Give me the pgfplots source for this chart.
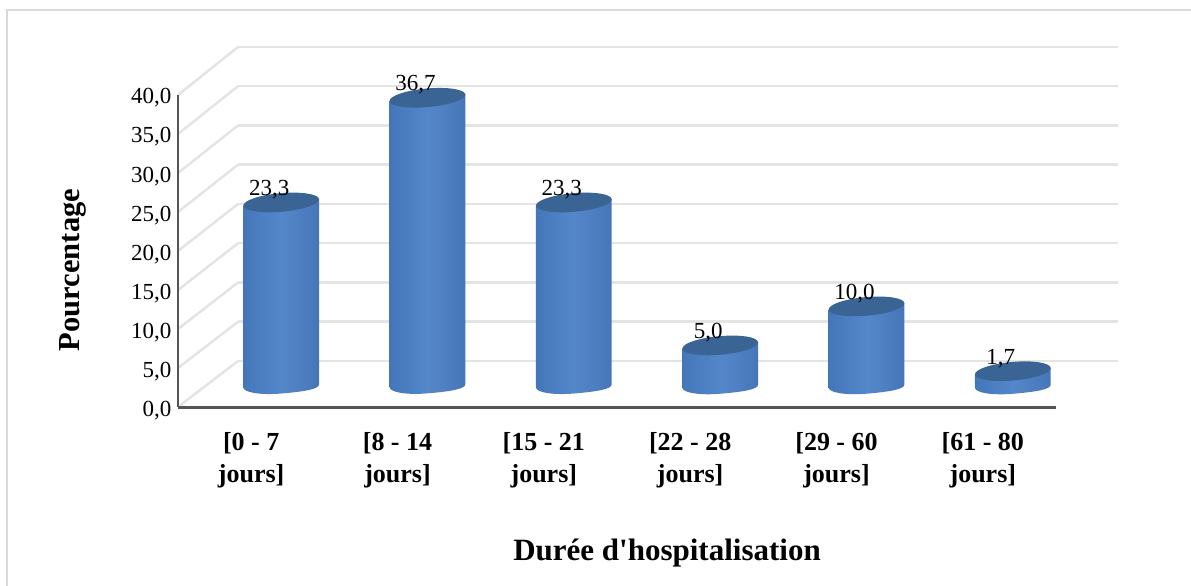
\documentclass[border=0pt]{standalone}
\usepackage{pgfplots}
\pgfplotsset{compat=1.18}
\usepackage{fontspec}
\setmainfont{Liberation Serif}

\definecolor{wallgrid}{HTML}{E4E4E4}
\definecolor{axisdark}{HTML}{555555}
\definecolor{cyltopblue}{HTML}{3A6494}
\definecolor{framegray}{HTML}{D9D9D9}

% Left-to-right lighting of the cylinder walls
\pgfdeclarehorizontalshading{cylwall}{100bp}{
  rgb(0bp)=(0.18,0.34,0.55);
  rgb(12bp)=(0.23,0.42,0.66);
  rgb(30bp)=(0.28,0.48,0.74);
  rgb(50bp)=(0.33,0.53,0.79);
  rgb(72bp)=(0.28,0.47,0.73);
  rgb(88bp)=(0.23,0.39,0.60);
  rgb(100bp)=(0.19,0.31,0.48)}

% One cylinder, hanging from its top face down to the base plane.
% \val is the plotted value, 7.8pt is the length of one percent on the axis.
\pgfdeclareplotmark{cylinder}{%
  \pgfmathsetlengthmacro{\cylh}{\val*7.8pt}%
  \shade[draw=none,shading=cylwall]
    (-37.86pt,-3.31pt) -- ++(0pt,-\cylh)
    .. controls +(0.45pt,-5.12pt) and +(-20.92pt,-1.83pt) .. ++(38.67pt,-5.95pt)
    .. controls +(20.92pt,1.83pt) and +(0.45pt,-5.12pt) .. ++(37.05pt,9.26pt)
    -- (37.86pt,3.31pt) -- cycle;
  \pgfpathellipse{\pgfpointorigin}{\pgfpoint{37.86pt}{3.31pt}}{\pgfpoint{0.81pt}{-9.26pt}}%
  \pgfsetfillcolor{cyltopblue}%
  \pgfusepathqfill
}

\pgfplotstableread{
x   pct
0.5 23.3
1.5 36.7
2.5 23.3
3.5 5.0
4.5 10.0
5.5 1.7
}\stay

\begin{document}
\begin{tikzpicture}[x=1pt,y=1pt]
  \path[use as bounding box] (0,0) rectangle (1191,586);
  % outer chart frame
  \draw[framegray,line width=2pt] (7,-5) -- (7,576) -- (1196,576);

  % floor and side wall lines joining the front axis to the back wall
  \foreach \i in {0,...,8}{
    \draw[wallgrid,line width=2.5pt] (178,{179+39*\i}) -- (238,{225+39.25*\i});
  }

  % back wall gridlines
  \begin{axis}[
    at={(238pt,225pt)},anchor=south west,scale only axis,
    width=880pt,height=314pt,
    xmin=0,xmax=1,ymin=0,ymax=40,
    axis line style={draw=none},
    xtick=\empty,ytick={0,5,...,40},yticklabels={},
    major tick length=0pt,
    ymajorgrids,
    grid style={wallgrid,line width=2.5pt},
  ]
  \end{axis}

  % front axes with the data
  \begin{axis}[
    at={(178pt,178.5pt)},anchor=south west,scale only axis,
    width=878pt,height=312.5pt,
    xmin=0,xmax=6,ymin=0,ymax=40,
    clip=false,
    axis lines=left,
    axis line style={axisdark,line width=2.6pt,-},
    major tick length=0pt,
    xtick={0.5,1.5,2.5,3.5,4.5,5.5},
    xticklabels={{[0 - 7\\jours]},{[8 - 14\\jours]},{[15 - 21\\jours]},
                 {[22 - 28\\jours]},{[29 - 60\\jours]},{[61 - 80\\jours]}},
    xticklabel style={align=center,yshift=-21pt,
      font=\fontsize{26}{32.5}\selectfont\bfseries},
    ytick={0,5,...,40},
    yticklabel style={font=\fontsize{23}{27}\selectfont,xshift=-3pt,yshift=-3pt,
      /pgf/number format/.cd,fixed,fixed zerofill,precision=1,use comma,assume math mode=true},
    xlabel={Durée d\textquotesingle hospitalisation},
    ylabel={Pourcentage},
    xlabel style={font=\fontsize{31}{36}\selectfont\bfseries,at={(axis description cs:0.557,0)},anchor=center,yshift=-146pt},
    ylabel style={font=\fontsize{30.5}{36}\selectfont\bfseries,at={(axis description cs:-0.1195,0.44)},anchor=center},
  ]
    % cylinders stand half way into the depth of the floor
    \addplot[scatter,only marks,mark=cylinder,shift={(30pt,23pt)},
      visualization depends on={rawy \as \val},
      scatter/@pre marker code/.code={},
      scatter/@post marker code/.code={}]
      table[x=x,y=pct] {\stay};

    % value labels above each cylinder
    \addplot[only marks,mark=none,shift={(18pt,36pt)},
      nodes near coords,
      every node near coord/.append style={anchor=center,inner sep=0pt,
        font=\fontsize{23}{27}\selectfont,
        /pgf/number format/.cd,fixed,fixed zerofill,precision=1,use comma,assume math mode=true}]
      table[x=x,y=pct] {\stay};
  \end{axis}
\end{tikzpicture}
\end{document}
